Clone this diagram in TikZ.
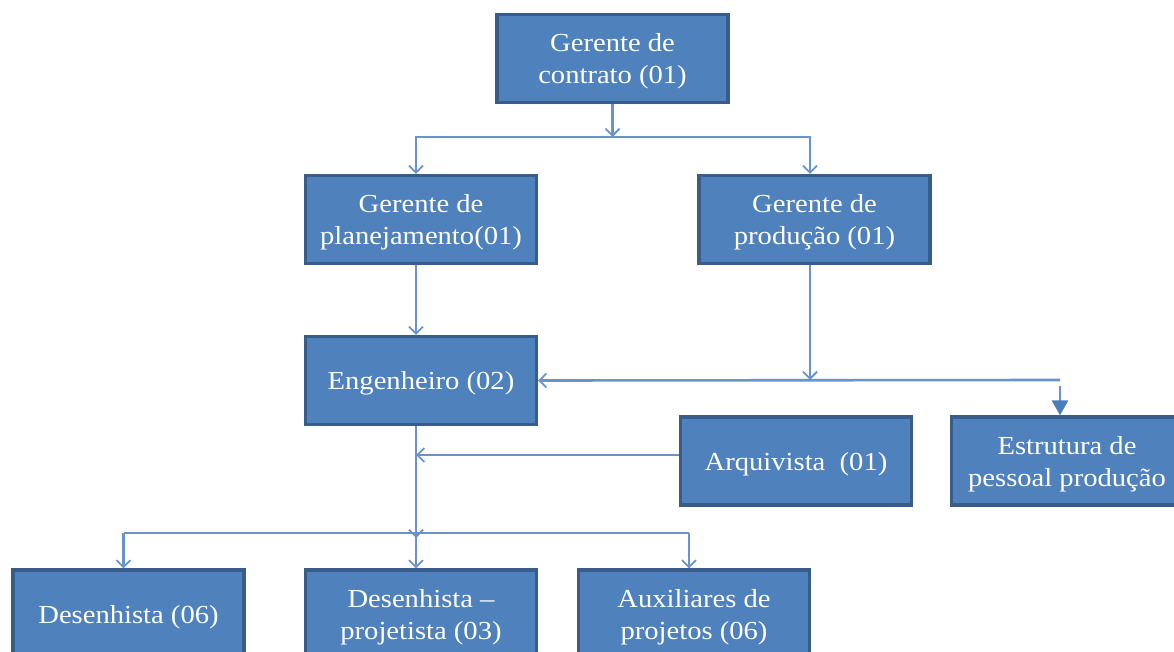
\documentclass[tikz,border=0pt]{standalone}
\usepackage{fontspec}
\setmainfont{Liberation Serif}[FakeStretch=1.1]
\usetikzlibrary{arrows.meta,calc}
\definecolor{boxfill}{HTML}{4F81BD}
\definecolor{boxline}{HTML}{385D8A}
\definecolor{linkcol}{HTML}{6A93CB}
\definecolor{tipcol}{HTML}{4A7EBB}
\tikzset{
  orgbox/.style={rectangle, draw=boxline, fill=boxfill, line width=3.2pt,
    minimum width=231pt, minimum height=88pt, text=white, align=center,
    text depth=-2pt, font=\fontsize{26pt}{32pt}\selectfont},
  link/.style={draw=linkcol, line width=2.6pt,
    -{Straight Barb[length=7pt,width=14pt,line width=1.8pt]}},
  plainlink/.style={draw=linkcol, line width=2.6pt},
  filllink/.style={draw=linkcol, line width=2.6pt,
    -{Triangle[length=15pt,width=16pt,fill=tipcol,color=tipcol]}}
}
\begin{document}
\begin{tikzpicture}[x=1pt,y=-1pt]
\useasboundingbox (0,0) rectangle (1174,652);
\clip (0,0) rectangle (1174,652);

% boxes of the chart
\node[orgbox] (gc)  at (612.5,58.5)  {Gerente de\\contrato (01)};
\node[orgbox] (gp)  at (421,219.5)   {Gerente de\\planejamento(01)};
\node[orgbox] (gpr) at (814.5,219.5) {Gerente de\\produção (01)};
\node[orgbox] (eng) at (421,380.5)   {Engenheiro (02)};
\node[orgbox] (arq) at (796,461)     {Arquivista~ (01)};
\node[orgbox] (est) at (1067,461)    {Estrutura de\\pessoal produção};
\node[orgbox] (d1)  at (128.5,614)   {Desenhista (06)};
\node[orgbox] (d2)  at (421,614)     {Desenhista --\\projetista (03)};
\node[orgbox] (d3)  at (694,614)     {Auxiliares de\\projetos (06)};

% junction points on the horizontal buses
\coordinate (j1) at (612.5,137);
\coordinate (j2) at (810,380);
\coordinate (j4) at (1060,380);
\coordinate (j3) at (416,533);

% contract manager to the two managers
\draw[link] (gc.south) -- (j1);
\draw[link] (j1) -| ([xshift=-5pt]gp.north);
\draw[link] (j1) -| ([xshift=-4.5pt]gpr.north);

% planning manager to engineer
\draw[link] ([xshift=-5pt]gp.south) -- ([xshift=-5pt]eng.north);

% production manager to engineer and production staff
\draw[link] ([xshift=-4.5pt]gpr.south) -- (j2);
\draw[link] (j4) -- (eng.east);
\draw[filllink] ([yshift=-6pt]j4) -- (j4 |- est.north);

% engineer and archivist down to the drafting team
\draw[link] ([xshift=-5pt]eng.south) -- ([yshift=-5pt]j3);
\draw[link] ([yshift=6pt]arq.west) -- ([yshift=6pt]arq.west -| j3);
\draw[plainlink] ([xshift=-5pt]d1.north |- j3) -- ([xshift=-5pt]d3.north |- j3);
\draw[link] (j3) -- ([xshift=-5pt]d2.north);
\draw[link] ([xshift=-5pt]d1.north |- j3) -- ([xshift=-5pt]d1.north);
\draw[link] ([xshift=-5pt]d3.north |- j3) -- ([xshift=-5pt]d3.north);
\end{tikzpicture}
\end{document}
